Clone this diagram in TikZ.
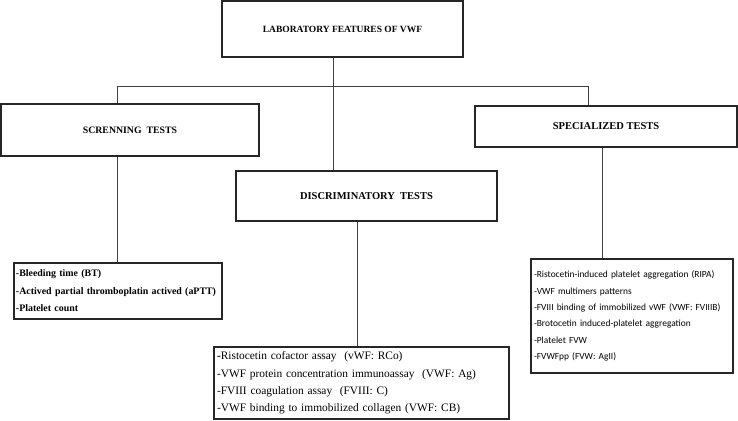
\documentclass[tikz,border=0pt]{standalone}
\usepackage{fontspec}
\setmainfont{Liberation Serif}
\newfontfamily\calib{Carlito}
\begin{document}
\begin{tikzpicture}[x=1pt,y=-1pt,
  box/.style={draw=black!85, line width=1.1pt, inner sep=0pt, align=center},
  listbox/.style={draw=black!85, line width=1.1pt, inner ysep=0pt, align=left},
  ttl/.style={font=\bfseries\fontsize{10.5}{12}\selectfont},
  ln/.style={draw=black!75, line width=0.8pt}]
\useasboundingbox (0,0) rectangle (738,420);

\node[box, minimum width=241pt, minimum height=56pt, font=\bfseries\fontsize{9.5}{11}\selectfont] (top) at (342.5,29) {LABORATORY FEATURES OF VWF};
\node[box, minimum width=258pt, minimum height=52pt, font=\bfseries\fontsize{9.8}{12}\selectfont] (scr) at (130,130) {SCRENNING\ \ TESTS};
\node[box, ttl, minimum width=261pt, minimum height=50pt] (dis) at (366.5,196) {DISCRIMINATORY\ \ TESTS};
\node[box, ttl, minimum width=262pt, minimum height=41pt] (spe) at (606,126.5) {SPECIALIZED TESTS};

\node[listbox, inner xsep=2pt, text width=204pt, minimum height=56pt, font=\bfseries\fontsize{9.9}{17.5}\selectfont] (bl) at (118,291)
  {-Bleeding time (BT)\\-Actived partial thromboplatin actived (aPTT)\\-Platelet count};
\node[listbox, inner xsep=3pt, text width=289pt, minimum height=72pt, font=\fontsize{11.4}{17.3}\selectfont] (dl) at (361.5,383)
  {\textbf{-}Ristocetin cofactor assay\ \ (vWF: RCo)\\-VWF protein concentration immunoassay\ \ (VWF: Ag)\\-FVIII coagulation assay\ \ (FVIII: C)\\-VWF binding to immobilized collagen (VWF: CB)};
\node[listbox, inner xsep=3pt, text width=196pt, minimum height=114pt, font=\calib\fontsize{9.4}{16.4}\selectfont] (sl) at (632,316)
  {-Ristocetin-induced platelet aggregation (RIPA)\\-VWF multimers patterns\\-FVIII binding of immobilized vWF (VWF: FVIIIB)\\-Brotocetin induced-platelet aggregation\\-Platelet FVW\\-FVWFpp (FVW: AgII)};

\coordinate (j) at (333,86);
\coordinate (jl) at (117,86);
\coordinate (jr) at (588,86);
\coordinate (dx) at (357,0);
\coordinate (sx) at (602,0);

\draw[ln] (top.south -| j) -- (dis.north -| j);
\draw[ln] (jl) -- (jr);
\draw[ln] (jl) -- (scr.north -| jl);
\draw[ln] (jr) -- (spe.north -| jr);
\draw[ln] (scr.south -| jl) -- (bl.north -| jl);
\draw[ln] (dis.south -| dx) -- (dl.north -| dx);
\draw[ln] (spe.south -| sx) -- (sl.north -| sx);
\end{tikzpicture}
\end{document}
